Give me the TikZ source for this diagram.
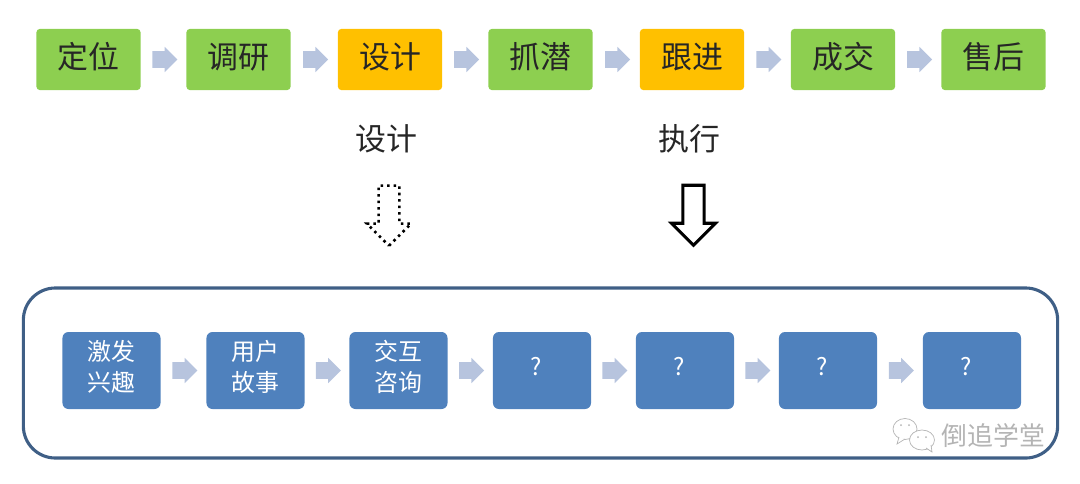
\documentclass[tikz,border=0pt]{standalone}
\usepackage{fontspec}
\setmainfont{Noto Sans CJK SC}
\usetikzlibrary{calc,shapes.arrows}
\definecolor{boxgreen}{HTML}{8DCF50}
\definecolor{boxorange}{HTML}{FFC000}
\definecolor{boxblue}{HTML}{4F81BD}
\definecolor{flowgray}{HTML}{B7C4DE}
\definecolor{frameblue}{HTML}{3F5F86}
\definecolor{markgray}{HTML}{B4B4B4}
\tikzset{
  topbox/.style={rounded corners=.08cm, minimum width=2.6cm, minimum height=1.525cm, inner sep=0pt, text height=19.4pt, text depth=6.2pt, font=\fontsize{22}{26}\selectfont, text=black!85},
  greenbox/.style={topbox, fill=boxgreen},
  orangebox/.style={topbox, fill=boxorange},
  lowbox/.style={rounded corners=.15cm, fill=boxblue, minimum width=2.45cm, minimum height=1.925cm, inner sep=0pt, align=center, text depth=6.5pt, text=white, font=\fontsize{17}{22}\selectfont},
  flowarrow/.style={single arrow, fill=flowgray, inner sep=.2cm, minimum height=.58cm, minimum width=.62cm, single arrow head extend=.11cm, outer sep=0pt, xshift=-.07cm},
  downarrow/.style={single arrow, shape border rotate=270, draw=black, fill=white, inner sep=.22cm, minimum height=1.5cm, minimum width=1.1cm, single arrow head extend=.28cm},
  stagetext/.style={inner sep=0pt, font=\fontsize{22}{26}\selectfont, text=black!85}
}
\begin{document}
\begin{tikzpicture}[x=.025cm, y=-.025cm]
\useasboundingbox (0,0) rectangle (1080,483);
\node[draw=frameblue, line width=2.2pt, rounded corners=.8cm, minimum width=25.85cm, minimum height=4.25cm] (frame) at (540.5,373) {};
\node[greenbox] (dingwei) at (88.5,59.5) {定位};
\node[greenbox] (diaoyan) at (238.5,59.5) {调研};
\node[orangebox] (sheji) at (390,59.5) {设计};
\node[greenbox] (zhuaqian) at (540.5,59.5) {抓潜};
\node[orangebox] (genjin) at (692,59.5) {跟进};
\node[greenbox] (chengjiao) at (843,59.5) {成交};
\node[greenbox] (shouhou) at (993.5,59.5) {售后};
\node[flowarrow] (top1) at ($(dingwei)!.5!(diaoyan)$) {};
\node[flowarrow] (top2) at ($(diaoyan)!.5!(sheji)$) {};
\node[flowarrow] (top3) at ($(sheji)!.5!(zhuaqian)$) {};
\node[flowarrow] (top4) at ($(zhuaqian)!.5!(genjin)$) {};
\node[flowarrow] (top5) at ($(genjin)!.5!(chengjiao)$) {};
\node[flowarrow] (top6) at ($(chengjiao)!.5!(shouhou)$) {};
\node[stagetext] (design) at (386,139) {设计};
\node[stagetext] (execute) at (689,139) {执行};
\node[downarrow, line width=1.8pt, dash pattern=on 1.8pt off 2.8pt] (designarrow) at (389,210.5) {};
\node[downarrow, line width=2.2pt] (executearrow) at (693.5,210) {};
\node[lowbox] (jifa) at (111.5,370.5) {激发\\兴趣};
\node[lowbox] (yonghu) at (255.5,370.5) {用户\\故事};
\node[lowbox] (jiaohu) at (398.5,370.5) {交互\\咨询};
\node[lowbox] (q1) at (542,370.5) {?\kern8pt};
\node[lowbox] (q2) at (685,370.5) {?\kern8pt};
\node[lowbox] (q3) at (828,370.5) {?\kern8pt};
\node[lowbox] (q4) at (972,370.5) {?\kern8pt};
\node[flowarrow] (low1) at ($(jifa)!.5!(yonghu)$) {};
\node[flowarrow] (low2) at ($(yonghu)!.5!(jiaohu)$) {};
\node[flowarrow] (low3) at ($(jiaohu)!.5!(q1)$) {};
\node[flowarrow] (low4) at ($(q1)!.5!(q2)$) {};
\node[flowarrow] (low5) at ($(q2)!.5!(q3)$) {};
\node[flowarrow] (low6) at ($(q3)!.5!(q4)$) {};
\draw[markgray, line width=.5pt, fill=white] (905,429) ellipse (12 and 10.5);
\draw[markgray, line width=.5pt, fill=white] (899,437) -- (897,444) -- (905,439);
\draw[markgray, line width=.5pt, fill=white] (922,440) ellipse (12.5 and 10);
\draw[markgray, line width=.5pt, fill=white] (926,448) -- (932,452) -- (931,445);
\fill[markgray] (901,425) circle (1) (909,425) circle (1) (918,437) circle (1) (926,437) circle (1);
\node[inner sep=0pt, text=markgray, font=\fontsize{18.4}{22}\selectfont] (watermark) at (993.5,435.5) {倒追学堂};
\end{tikzpicture}
\end{document}
